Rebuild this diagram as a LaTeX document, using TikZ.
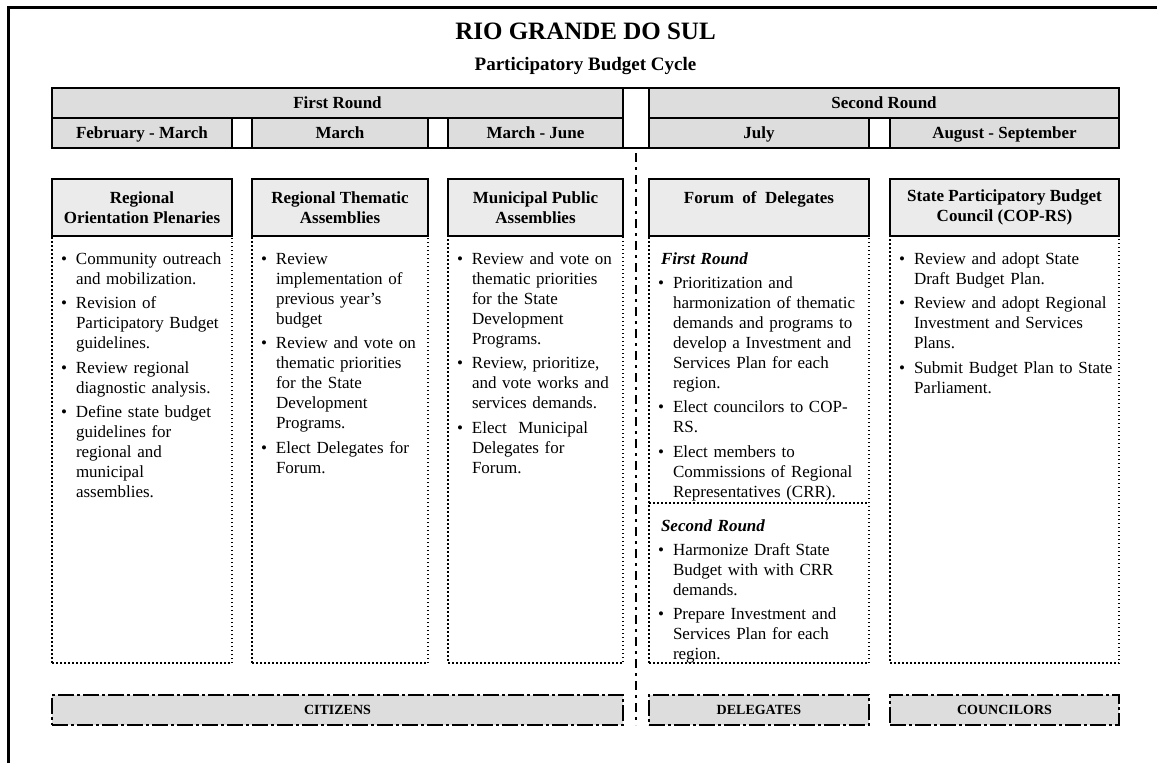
\documentclass[tikz,border=0pt]{standalone}
\usepackage{fontspec}
\setmainfont{Liberation Serif}
\hyphenpenalty=10000
\definecolor{bargray}{HTML}{DDDDDD}
\definecolor{headgray}{HTML}{EBEBEB}

\newcommand{\bitem}[1]{\par\hangindent=15pt\hangafter=1\noindent
  \strut\makebox[15pt][l]{\textbullet}{\let\\\newline#1}\par\vspace{4.5pt}}
\newcommand{\rnd}[1]{\par\noindent\strut\hspace*{3pt}\textbf{\textit{#1}}\par\vspace{4pt}}

\begin{document}
\begin{tikzpicture}[
    x = 1pt, y = -1pt,
    every node/.style={ inner sep = 0pt, outer sep = 0pt },
    bar/.style={ draw, line width = 1.2pt, fill = bargray, minimum height = 30pt,
      text height = 11.5pt, text depth = 0pt, font = \fontsize{17}{20}\selectfont\bfseries },
    gapcell/.style={ draw, line width = 1.2pt },
    colhead/.style={ draw, line width = 1.3pt, fill = headgray, minimum height = 57pt,
      align = center, font = \fontsize{17}{20.5}\selectfont\bfseries },
    colbody/.style={ draw, line width = 1.5pt, dash pattern = on 1.5pt off 2.5pt,
      minimum height = 427pt },
    bodytext/.style={ anchor = north west, align = left, text width = #1,
      font = \fontsize{17}{20}\selectfont },
    rolebar/.style={ draw, line width = 2.2pt, dash pattern = on 16pt off 3pt on 3pt off 3pt,
      fill = bargray, minimum height = 30pt, text height = 9.5pt, text depth = 0pt,
      font = \fontsize{14}{16}\selectfont\bfseries },
    splitline/.style={ line width = 2.7pt, dash pattern = on 9pt off 5pt on 3pt off 5pt },
    dotline/.style={ line width = 1.5pt, dash pattern = on 1.5pt off 2.5pt }
    ]
  \useasboundingbox (0,0) rectangle (1157,763);
  \draw[line width = 3pt] (8.3,780) -- (8.3,7) -- (1170,7);

  \node[font = \fontsize{25}{30}\selectfont\bfseries] (title) at (585.5,31) {RIO GRANDE DO SUL};
  \node[font = \fontsize{19}{22}\selectfont\bfseries] (subtitle) at (585.5,66) {Participatory Budget Cycle};

  \node[bar, minimum width = 571pt] (firstround) at (337.5,103) {First Round};
  \node[bar, minimum width = 470pt] (secondround) at (884,103) {Second Round};
  \node[bar, minimum width = 180pt] (febmar) at (142,133) {February - March};
  \node[bar, minimum width = 176pt] (march) at (340,133) {March};
  \node[bar, minimum width = 175pt] (marjun) at (535.5,133) {March - June};
  \node[bar, minimum width = 220pt] (july) at (759,133) {July};
  \node[bar, minimum width = 229pt] (augsep) at (1004.5,133) {August - September};
  \node[gapcell, minimum width = 1067pt, minimum height = 60pt] (calendar) at (585.5,118) {};

  \node[colbody, minimum width = 180pt] (regbox) at (142,449.5) {};
  \node[colbody, minimum width = 176pt] (thembox) at (340,449.5) {};
  \node[colbody, minimum width = 175pt] (munbox) at (535.5,449.5) {};
  \node[colbody, minimum width = 220pt] (forumbox) at (759,449.5) {};
  \node[colbody, minimum width = 229pt] (councilbox) at (1004.5,449.5) {};

  \node[colhead, minimum width = 180pt] (reghead) at (142,207.5) {Regional\\Orientation Plenaries};
  \node[colhead, minimum width = 176pt] (themhead) at (340,207.5) {Regional Thematic\\Assemblies};
  \node[colhead, minimum width = 175pt] (munhead) at (535.5,207.5) {Municipal Public\\Assemblies};
  \node[colhead, minimum width = 220pt] (forumhead) at (759,207.5) {Forum~~of~~Delegates\\\mbox{}};
  \node[colhead, minimum width = 229pt] (councilhead) at (1004.5,207.5) {State Participatory Budget\\Council (COP-RS)};

  \node[bodytext = 168pt] (regtxt) at (61,244) {
    \bitem{Community outreach\\and mobilization.}
    \bitem{Revision of\\Participatory Budget\\guidelines.}
    \bitem{Review regional\\diagnostic analysis.}
    \bitem{Define state budget\\guidelines for\\regional and\\municipal\\assemblies.}};
  \node[bodytext = 164pt] (themtxt) at (261,244) {
    \bitem{Review\\implementation of\\previous year's\\budget}
    \bitem{Review and vote on\\thematic priorities\\for the State\\Development\\Programs.}
    \bitem{Elect Delegates for\\Forum.}};
  \node[bodytext = 163pt] (muntxt) at (457,244) {
    \bitem{Review and vote on\\thematic priorities\\for the State\\Development\\Programs.}
    \bitem{Review, prioritize,\\and vote works and\\services demands.}
    \bitem{Elect~~Municipal\\Delegates for\\Forum.}};
  \node[bodytext = 208pt] (forumtxt) at (658,244) {
    \rnd{First Round}
    \bitem{Prioritization and\\harmonization of thematic\\demands and programs to\\develop a Investment and\\Services Plan for each\\region.}
    \bitem{Elect councilors to COP-\\RS.}
    \bitem{Elect members to\\Commissions of Regional\\Representatives (CRR).}};
  \node[bodytext = 208pt] (forumtxtb) at (658,511) {
    \rnd{Second Round}
    \bitem{Harmonize Draft State\\Budget with with CRR\\demands.}
    \bitem{Prepare Investment and\\Services Plan for each\\region.}};
  \node[bodytext = 217pt] (counciltxt) at (899,244) {
    \bitem{Review and adopt State\\Draft Budget Plan.}
    \bitem{Review and adopt Regional\\Investment and Services\\Plans.}
    \bitem{Submit Budget Plan to State\\Parliament.}};

  \node[rolebar, minimum width = 571pt] (citizens) at (337.5,710) {CITIZENS};
  \node[rolebar, minimum width = 220pt] (delegates) at (759,710) {DELEGATES};
  \node[rolebar, minimum width = 229pt] (councilors) at (1004.5,710) {COUNCILORS};

  \coordinate (cutleft) at (649,503);
  \coordinate (cutright) at (869,503);
  \coordinate (splittop) at (636,153);
  \coordinate (splitbottom) at (636,725);
\draw[dotline] (cutleft) -- (cutright) ;
\draw[splitline] (splittop) -- (splitbottom) ;
\end{tikzpicture}
\end{document}
